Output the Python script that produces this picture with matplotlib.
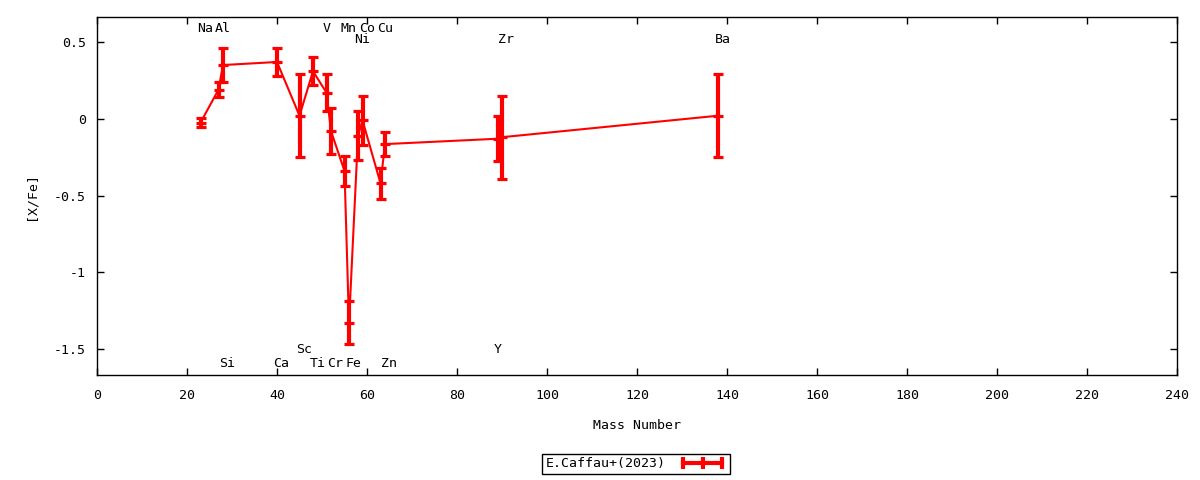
import matplotlib
matplotlib.use("Agg")
import matplotlib.pyplot as plt
from matplotlib.lines import Line2D
from matplotlib.ticker import FuncFormatter, MultipleLocator

# ---- data ----
elements = ["Na", "Al", "Si", "Ca", "Sc", "Ti", "V", "Cr", "Mn", "Fe",
            "Ni", "Co", "Cu", "Zn", "Y", "Zr", "Ba"]
mass = [23, 27, 28, 40, 45, 48, 51, 52, 55, 56, 58, 59, 63, 64, 89, 90, 138]
xfe = [-0.025, 0.19, 0.35, 0.37, 0.02, 0.31, 0.17, -0.08, -0.34, -1.33,
       -0.11, -0.01, -0.42, -0.165, -0.13, -0.12, 0.02]
err = [0.03, 0.05, 0.11, 0.09, 0.27, 0.09, 0.12, 0.15, 0.10, 0.14,
       0.16, 0.16, 0.10, 0.08, 0.145, 0.27, 0.27]
series_label = "E.Caffau+(2023)"

# ---- layout config (label tiers) ----
tier = {"Na": 0, "Al": 0, "V": 0, "Mn": 0, "Co": 0, "Cu": 0,
        "Ni": 1, "Zr": 1, "Ba": 1,
        "Sc": 2, "Y": 2,
        "Si": 3, "Ca": 3, "Ti": 3, "Cr": 3, "Fe": 3, "Zn": 3}
tier_y = [0.586, 0.518, -1.505, -1.596]

plt.rcParams["axes.unicode_minus"] = False
FONT = "DejaVu Sans Mono"
FS = 9.5
plt.rcParams["font.family"] = FONT

fig = plt.figure(figsize=(12, 4.8), dpi=100)
ax = fig.add_axes([97 / 1200, 1 - 375 / 480, 1080 / 1200, 358 / 480])

ax.errorbar(mass, xfe, yerr=err, color="red", lw=1.5, elinewidth=3,
            capsize=3.6, capthick=2.3, marker="_", ms=7.2, mew=2.3)

for el, m in zip(elements, mass):
    ax.text(m - 0.8, tier_y[tier[el]], el, ha="left", va="center",
            fontsize=FS, color="black")

ax.set_xlim(0, 240)
ax.set_ylim(-1.669, 0.663)
ax.xaxis.set_major_locator(MultipleLocator(20))
ax.yaxis.set_major_locator(MultipleLocator(0.5))
ax.yaxis.set_major_formatter(FuncFormatter(lambda v, p: "%g" % round(v, 3)))
ax.xaxis.set_major_formatter(FuncFormatter(lambda v, p: "%g" % v))
ax.tick_params(direction="in", length=5, width=1, top=True, right=True,
               labelsize=FS, colors="black")
ax.tick_params(axis="x", pad=10)
ax.tick_params(axis="y", pad=8)
for s in ax.spines.values():
    s.set_linewidth(1)
    s.set_color("black")

ax.set_xlabel("Mass Number", fontsize=FS, labelpad=12)
ax.set_ylabel("[X/Fe]", fontsize=FS, labelpad=12)

handle = Line2D([], [], color="red", lw=3, marker="|", ms=8, mew=3)
leg = fig.legend([handle], [series_label], loc="center",
                 bbox_to_anchor=(636 / 1200, 1 - 464 / 480),
                 numpoints=3, markerfirst=False, fancybox=False,
                 edgecolor="black", framealpha=1, fontsize=FS,
                 handlelength=3.6, borderpad=0.25, handletextpad=1.0,
                 borderaxespad=0)
leg.get_frame().set_linewidth(1)

fig.savefig("out.png", dpi=100)
